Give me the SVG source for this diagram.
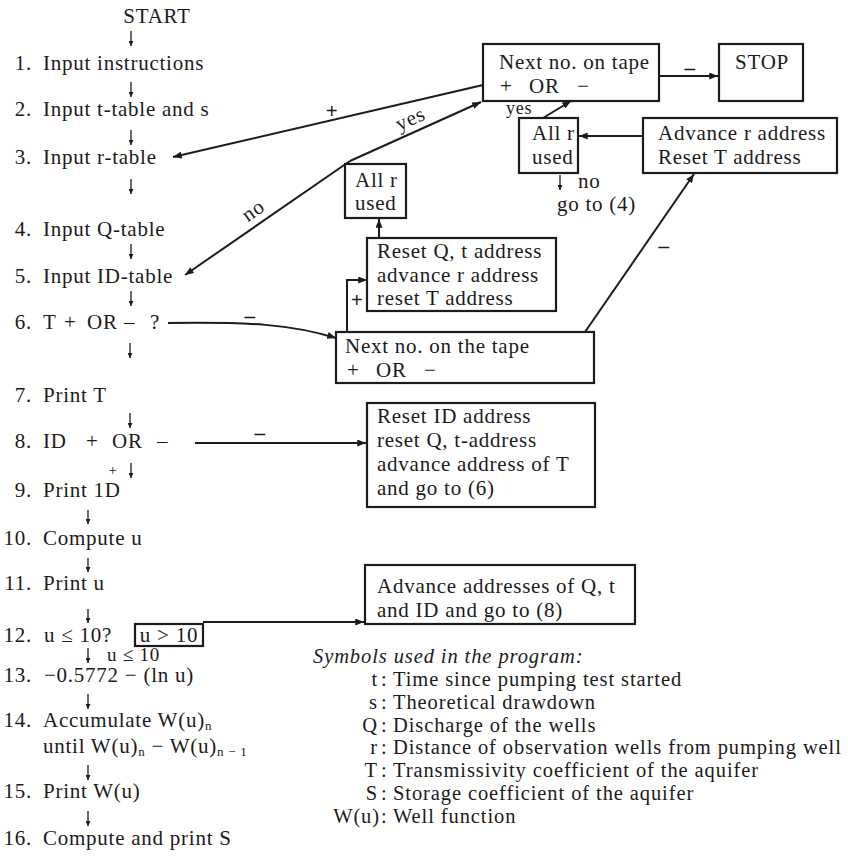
<svg xmlns="http://www.w3.org/2000/svg" width="848" height="860" viewBox="0 0 848 860">
<defs>
<style>
text{font-family:"Liberation Serif","Times New Roman",serif;font-size:21px;fill:#1b1b1b;letter-spacing:0.75px}
.n{text-anchor:end}
.m{text-anchor:middle}
.box{fill:none;stroke:#1b1b1b;stroke-width:2.2}
.c{fill:none;stroke:#1b1b1b;stroke-width:2}
.d{fill:none;stroke:#1b1b1b;stroke-width:1.3}
.lbl{font-weight:bold;text-anchor:middle}
.sub{font-size:13px}
.it{font-style:italic}
.lg{font-size:20.5px;letter-spacing:0.9px}
</style>
<marker id="ah" viewBox="0 0 10 8" refX="10" refY="4" markerWidth="9" markerHeight="7" orient="auto" markerUnits="userSpaceOnUse"><path d="M0,0 L10,4 L0,8 z" fill="#1b1b1b"/></marker>
<marker id="as" viewBox="0 0 10 10" refX="10" refY="5" markerWidth="5" markerHeight="5" orient="auto" markerUnits="userSpaceOnUse"><path d="M0,0 L10,5 L0,10 z" fill="#1b1b1b"/></marker>
</defs>
<rect width="848" height="860" fill="#ffffff"/>

<g id="start"><text class="m" x="157" y="23">START</text></g>
<g id="n1"><text y="70"><tspan class="n" x="32">1.</tspan><tspan x="43">Input instructions</tspan></text></g>
<g id="n2"><text y="116"><tspan class="n" x="32">2.</tspan><tspan x="43">Input t-table and s</tspan></text></g>
<g id="n3"><text y="164"><tspan class="n" x="32">3.</tspan><tspan x="43">Input r-table</tspan></text></g>
<g id="n4"><text y="236"><tspan class="n" x="32">4.</tspan><tspan x="43">Input Q-table</tspan></text></g>
<g id="n5"><text y="283"><tspan class="n" x="32">5.</tspan><tspan x="43">Input ID-table</tspan></text></g>
<g id="n6"><text y="329"><tspan class="n" x="32">6.</tspan><tspan x="43">T</tspan><tspan x="64">+</tspan><tspan x="87">OR</tspan><tspan x="124">–</tspan><tspan x="150">?</tspan></text></g>
<g id="n7"><text y="402"><tspan class="n" x="32">7.</tspan><tspan x="43">Print T</tspan></text></g>
<g id="n8"><text y="448"><tspan class="n" x="32">8.</tspan><tspan x="43">ID</tspan><tspan x="86">+</tspan><tspan x="112">OR</tspan><tspan x="157">–</tspan></text></g>
<g id="n9"><text y="497"><tspan class="n" x="32">9.</tspan><tspan x="43">Print 1D</tspan></text></g>
<g id="n10"><text y="545"><tspan class="n" x="32">10.</tspan><tspan x="43">Compute u</tspan></text></g>
<g id="n11"><text y="590"><tspan class="n" x="32">11.</tspan><tspan x="43">Print u</tspan></text></g>
<g id="n12"><text y="642"><tspan class="n" x="32">12.</tspan><tspan x="44">u ≤ 10?</tspan></text></g>
<g id="n12b"><rect class="box" x="135" y="624" width="68" height="22"/><text class="m" x="169" y="642">u &gt; 10</text></g>
<g id="n13"><text y="682"><tspan class="n" x="32">13.</tspan><tspan x="44">−0.5772 − (ln u)</tspan></text></g>
<g id="n14"><text y="727"><tspan class="n" x="32">14.</tspan><tspan x="43">Accumulate W(u)</tspan><tspan class="sub" dy="3">n</tspan></text>
<text y="753"><tspan x="43">until W(u)</tspan><tspan class="sub" dy="3">n</tspan><tspan dy="-3"> − W(u)</tspan><tspan class="sub" dy="3">n − 1</tspan></text></g>
<g id="n15"><text y="798"><tspan class="n" x="32">15.</tspan><tspan x="43">Print W(u)</tspan></text></g>
<g id="n16"><text y="845"><tspan class="n" x="32">16.</tspan><tspan x="43">Compute and print S</tspan></text></g>

<g id="tapeA"><rect class="box" x="483" y="44" width="176" height="57"/><text x="499" y="69">Next no. on tape</text><text y="92.5"><tspan x="500">+</tspan><tspan x="529">OR</tspan><tspan x="577">−</tspan></text></g>
<g id="stop"><rect class="box" x="719" y="44" width="84" height="57"/><text x="735" y="69">STOP</text></g>
<g id="allrB"><rect class="box" x="519" y="118" width="59" height="55"/><text x="532" y="140">All r</text><text x="532" y="163.5">used</text></g>
<g id="advC"><rect class="box" x="643" y="118" width="194" height="55"/><text x="658" y="140">Advance r address</text><text x="658" y="163.5">Reset T address</text></g>
<g id="goto4"><text x="557" y="211">go to (4)</text></g>
<g id="allrF"><rect class="box" x="345" y="164" width="61" height="54"/><text x="355" y="186.5">All r</text><text x="355" y="210">used</text></g>
<g id="resetE"><rect class="box" x="367" y="238" width="189" height="73"/><text x="377" y="258">Reset Q, t address</text><text x="377" y="281.5">advance r address</text><text x="377" y="305">reset T address</text></g>
<g id="tapeD"><rect class="box" x="336" y="332" width="258" height="51"/><text x="345" y="353">Next no. on the tape</text><text y="376.5"><tspan x="347">+</tspan><tspan x="376">OR</tspan><tspan x="424">−</tspan></text></g>
<g id="resetG"><rect class="box" x="367" y="403" width="228" height="104"/><text x="377" y="423">Reset ID address</text><text x="377" y="447">reset Q, t-address</text><text x="377" y="471">advance address of T</text><text x="377" y="495">and go to (6)</text></g>
<g id="advH"><rect class="box" x="365" y="565" width="270" height="59"/><text x="377" y="593">Advance addresses of Q, t</text><text x="377" y="616.5">and ID and go to (8)</text></g>

<g id="legend" class="lg">
<text class="it lg" x="313" y="663">Symbols used in the program:</text>
<text class="lg" y="686"><tspan class="n" x="378">t</tspan><tspan x="381">:</tspan><tspan x="393">Time since pumping test started</tspan></text>
<text class="lg" y="708.8"><tspan class="n" x="378">s</tspan><tspan x="381">:</tspan><tspan x="393">Theoretical drawdown</tspan></text>
<text class="lg" y="731.6"><tspan class="n" x="378">Q</tspan><tspan x="381">:</tspan><tspan x="393">Discharge of the wells</tspan></text>
<text class="lg" y="754.4"><tspan class="n" x="378">r</tspan><tspan x="381">:</tspan><tspan x="393">Distance of observation wells from pumping well</tspan></text>
<text class="lg" y="777.2"><tspan class="n" x="378">T</tspan><tspan x="381">:</tspan><tspan x="393">Transmissivity coefficient of the aquifer</tspan></text>
<text class="lg" y="800"><tspan class="n" x="378">S</tspan><tspan x="381">:</tspan><tspan x="393">Storage coefficient of the aquifer</tspan></text>
<text class="lg" y="822.8"><tspan class="n" x="380">W(u)</tspan><tspan x="381">:</tspan><tspan x="393">Well function</tspan></text>
</g>

<g id="connectors">
<path class="d" marker-end="url(#as)" d="M131,31 V46"/>
<path class="d" marker-end="url(#as)" d="M131,82 V97"/>
<path class="d" marker-end="url(#as)" d="M131,130 V145"/>
<path class="d" marker-end="url(#as)" d="M131,179 V194"/>
<path class="d" marker-end="url(#as)" d="M131,244 V259"/>
<path class="d" marker-end="url(#as)" d="M131,291 V306"/>
<path class="d" marker-end="url(#as)" d="M130,343 V358"/>
<path class="d" marker-end="url(#as)" d="M130,413 V428"/>
<path class="d" marker-end="url(#as)" d="M131,463 V478"/>
<text x="113" y="475" class="m" style="font-size:15px">+</text>
<path class="d" marker-end="url(#as)" d="M88,510 V524"/>
<path class="d" marker-end="url(#as)" d="M88,558 V572"/>
<path class="d" marker-end="url(#as)" d="M88,609 V623"/>
<path class="d" marker-end="url(#as)" d="M88,648 V663"/>
<text x="107" y="661" style="font-size:19px">u ≤ 10</text>
<path class="d" marker-end="url(#as)" d="M88,694 V709"/>
<path class="d" marker-end="url(#as)" d="M88,765 V780"/>
<path class="d" marker-end="url(#as)" d="M88,811 V826"/>

<path class="c" marker-end="url(#ah)" d="M659,76 H718"/>
<text class="lbl" x="690" y="75">–</text>
<path class="c" marker-end="url(#ah)" d="M483,85 L173,157"/>
<text class="lbl" x="332" y="118">+</text>
<path class="c" marker-end="url(#ah)" d="M350,161 L481,102"/>
<text class="m" x="413" y="125" transform="rotate(-24.4 413 125)">yes</text>
<path class="c" marker-end="url(#ah)" d="M350,161 L185,275"/>
<text class="m" x="257" y="216" transform="rotate(-34.6 257 216)">no</text>
<path class="c" marker-end="url(#ah)" d="M543,118 L571,101"/>
<text x="506" y="114" style="font-size:18px">yes</text>
<path class="c" marker-end="url(#ah)" d="M643,136 H579"/>
<path class="d" marker-end="url(#as)" d="M560,175 V190"/>
<text x="578" y="188">no</text>
<path class="c" marker-end="url(#ah)" d="M585,332 L694,174"/>
<text class="lbl" x="664" y="253">–</text>
<path class="c" marker-end="url(#ah)" d="M347,332 V280 H367"/>
<text class="lbl" x="357" y="307">+</text>
<path class="c" marker-end="url(#ah)" d="M379,238 V219"/>
<path class="c" marker-end="url(#ah)" d="M168,323 C250,322 290,324 336,338"/>
<text class="lbl" x="250" y="323">–</text>
<path class="c" marker-end="url(#ah)" d="M195,443 H366"/>
<text class="lbl" x="260" y="440">–</text>
<path class="c" marker-end="url(#ah)" d="M203,622 H364"/>
</g>
</svg>
